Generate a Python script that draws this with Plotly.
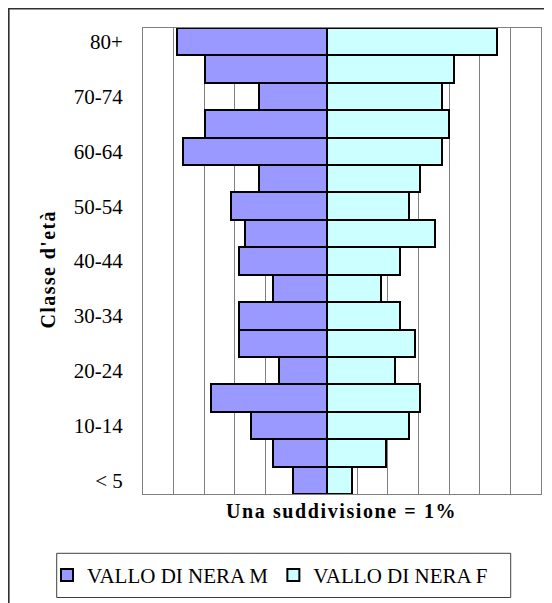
import plotly.graph_objects as go

# ---- data (percent of population per age class) ----
categories = ['< 5', '5-9', '10-14', '15-19', '20-24', '25-29', '30-34', '35-39',
              '40-44', '45-49', '50-54', '55-59', '60-64', '65-69', '70-74', '75-79', '80+']
male_pct = [1.10, 1.75, 2.47, 3.78, 1.55, 2.86, 2.86, 1.75,
            2.86, 2.66, 3.14, 2.21, 4.70, 3.97, 2.21, 3.97, 4.89]
female_pct = [0.84, 1.95, 2.68, 3.06, 2.22, 2.87, 2.41, 1.76,
              2.41, 3.53, 2.68, 3.06, 3.78, 3.99, 3.78, 4.17, 5.56]
tick_labels = ['< 5', '10-14', '20-24', '30-34', '40-44', '50-54', '60-64', '70-74', '80+']
series_names = ['VALLO DI NERA M', 'VALLO DI NERA F']

# ---- layout geometry (figure pixels) ----
W, H = 552, 603
L, R, T, B = 135, 19, 20, 117
PW, PH = W - L - R, H - T - B


def px(x):
    return (x - L) / PW


def py(y):
    return (H - B - y) / PH


FONT = 'Liberation Serif, Times New Roman, serif'

fig = go.Figure()
fig.add_trace(go.Bar(
    y=categories, x=[-v for v in male_pct], orientation='h', name=series_names[0],
    marker=dict(color='#9999FF', line=dict(color='black', width=2)),
    customdata=male_pct, hovertemplate='%{y}: %{customdata}%<extra></extra>'))
fig.add_trace(go.Bar(
    y=categories, x=female_pct, orientation='h', name=series_names[1],
    marker=dict(color='#CCFFFF', line=dict(color='black', width=2)),
    hovertemplate='%{y}: %{x}%<extra></extra>'))

fig.update_layout(
    width=W, height=H,
    margin=dict(l=L, r=R, t=T, b=B, pad=0),
    paper_bgcolor='white', plot_bgcolor='white',
    barmode='relative', bargap=0,
    font=dict(family=FONT, color='black', size=20),
    showlegend=True,
    legend=dict(orientation='h', xref='paper', yref='paper',
                x=px(39), xanchor='left',
                y=py(567.4), yanchor='middle',
                font=dict(family=FONT, size=21, color='black'),
                bgcolor='rgba(0,0,0,0)', borderwidth=0, traceorder='normal',
                itemwidth=30),
    xaxis=dict(range=[-6, 7], tick0=0, dtick=1, showticklabels=False,
               showgrid=True, gridcolor='#808080', gridwidth=1,
               zeroline=False, showline=True, mirror=True,
               linecolor='#808080', linewidth=1, ticks=''),
    yaxis=dict(type='category', categoryorder='array', categoryarray=categories,
               tickmode='array', tickvals=tick_labels, ticktext=tick_labels,
               showgrid=False, zeroline=False, showline=True, mirror=True,
               linecolor='#808080', linewidth=1, ticks='',
               ticklabelstandoff=15,
               tickfont=dict(family=FONT, size=21, color='black')),
    shapes=[
        # outer chart frame (border of the whole chart)
        dict(type='rect', xref='paper', yref='paper',
             x0=px(0.8), x1=px(W - 0.8), y0=py(H - 0.8), y1=py(0.8),
             line=dict(color='#303030', width=1.6), fillcolor='rgba(0,0,0,0)'),
        # legend box
        dict(type='rect', xref='paper', yref='paper',
             x0=px(48.7), x1=px(502.7), y0=py(589.5), y1=py(545.3),
             line=dict(color='#404040', width=1), fillcolor='rgba(0,0,0,0)'),
    ],
    annotations=[
        dict(text='<b><span style="letter-spacing:1.6px">Una suddivisione = 1%</span></b>',
             xref='paper', yref='paper',
             x=px(333.5), y=py(503), xanchor='center', yanchor='middle',
             showarrow=False, font=dict(family=FONT, size=20, color='black')),
        dict(text="<b><span style=\"letter-spacing:1.4px\">Classe d'età</span></b>",
             xref='paper', yref='paper',
             x=px(39.5), y=py(262), xanchor='center', yanchor='middle',
             textangle=-90, showarrow=False,
             font=dict(family=FONT, size=20, color='black')),
    ],
)

fig.write_html('out.html')
